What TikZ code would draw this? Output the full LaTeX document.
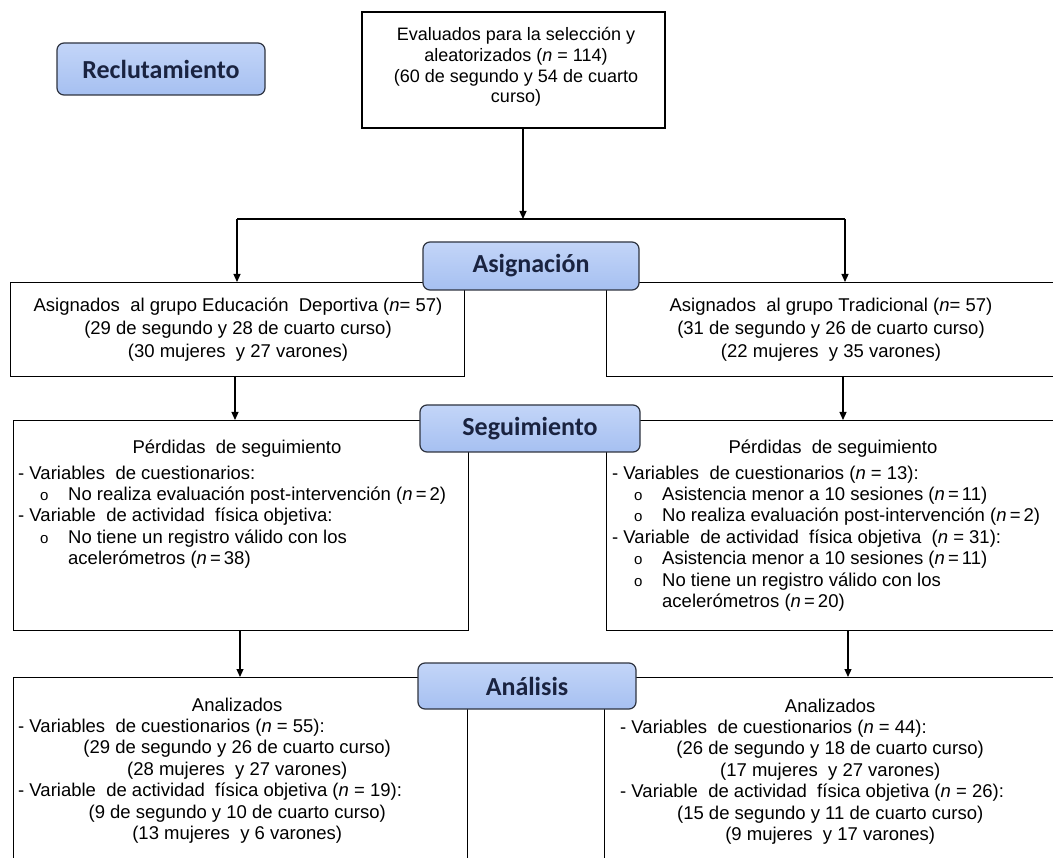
\documentclass[tikz,border=0pt]{standalone}
\usepackage{fontspec}
\setmainfont{Liberation Sans}
\newfontfamily\labelfont{Carlito}
\usetikzlibrary{arrows.meta}
\definecolor{labtop}{HTML}{C3D5F8}
\definecolor{labbot}{HTML}{A6C0F1}
\definecolor{labtext}{HTML}{1A2340}
\definecolor{labedge}{HTML}{2F3440}
\newcommand\bul{\makebox[50pt][l]{\hspace*{22pt}{\fontsize{15}{15}\selectfont o}}}
\newcommand\ind{\hspace*{50pt}}
\newcommand\nn{\textit{n}}
\begin{document}
\begin{tikzpicture}[x=1pt,y=-1pt,
  box/.style={draw=black, line width=1.4pt, fill=white, inner sep=0pt},
  lab/.style={draw=labedge, line width=1.2pt, rounded corners=7pt, top color=labtop, bottom color=labbot,
    font=\labelfont\bfseries\fontsize{26}{28}\selectfont, text=labtext, inner sep=0pt},
  txt/.style={font=\fontsize{18.5}{20.7}\selectfont, align=center, inner sep=0pt},
  lst/.style={font=\fontsize{18.5}{21.4}\selectfont, align=left, inner sep=0pt, anchor=north west},
  arr/.style={line width=1.2pt, -{Triangle[length=8pt,width=7pt]}},
  ln/.style={line width=1.2pt}]
\useasboundingbox (0,0) rectangle (1053,858);
\clip (0,0) rectangle (1053,858);
\fill[white] (0,0) rectangle (1053,858);

% label boxes
\node[lab, minimum width=208pt, minimum height=52pt] (recl) at (161,69) {Reclutamiento};

% top box
\node[box, minimum width=303pt, minimum height=116pt] (top) at (513.5,70) {};
\node[txt, font=\fontsize{18}{20.7}\selectfont] (toptxt) at (516,67) {Evaluados para la selección y\\ aleatorizados (\nn\ = 114)\\ (60 de segundo y 54 de cuarto\\ curso)};

% assignment boxes
\node[box, minimum width=454pt, minimum height=94pt, anchor=north west] (asgL) at (10,282) {};
\node[box, minimum width=460pt, minimum height=94pt, anchor=north west] (asgR) at (606,282) {};
\node[txt, font=\fontsize{18.5}{23}\selectfont] (asgLtxt) at (238,330) {Asignados \ al grupo Educación \ Deportiva (\nn= 57)\\ (29 de segundo y 28 de cuarto curso)\\ (30 mujeres \ y 27 varones)};
\node[txt, font=\fontsize{18.5}{23}\selectfont] (asgRtxt) at (831,330) {Asignados \ al grupo Tradicional (\nn= 57)\\ (31 de segundo y 26 de cuarto curso)\\ (22 mujeres \ y 35 varones)};
\node[lab, minimum width=216pt, minimum height=48pt] (asig) at (531,266) {Asignación};

% follow-up boxes
\node[box, minimum width=455pt, minimum height=210pt, anchor=north west] (segL) at (13,420) {};
\node[box, minimum width=460pt, minimum height=210pt, anchor=north west] (segR) at (606,420) {};
\node[txt] (segLt) at (237,449) {Pérdidas \ de seguimiento};
\node[lst] (segLl) at (18,465.5) {- Variables \ de cuestionarios:\\
\bul No realiza evaluación post-intervención (\nn\,=\,2)\\
- Variable \ de actividad \ física objetiva:\\
\bul No tiene un registro válido con los\\
\ind acelerómetros (\nn\,=\,38)};
\node[txt] (segRt) at (833,449) {Pérdidas \ de seguimiento};
\node[lst] (segRl) at (612,465.5) {- Variables \ de cuestionarios (\nn\ = 13):\\
\bul Asistencia menor a 10 sesiones (\nn\,=\,11)\\
\bul No realiza evaluación post-intervención (\nn\,=\,2)\\
- Variable \ de actividad \ física objetiva \ (\nn\ = 31):\\
\bul Asistencia menor a 10 sesiones (\nn\,=\,11)\\
\bul No tiene un registro válido con los\\
\ind acelerómetros (\nn\,=\,20)};
\node[lab, minimum width=220pt, minimum height=47pt] (segu) at (530,428.5) {Seguimiento};

% analysis boxes
\node[box, minimum width=454pt, minimum height=200pt, anchor=north west] (anaL) at (13,677) {};
\node[box, minimum width=460pt, minimum height=200pt, anchor=north west] (anaR) at (604,677) {};
\node[lst] (anaLl) at (18,697.5) {\makebox[438pt][c]{Analizados}\\
- Variables \ de cuestionarios (\nn\ = 55):\\
\makebox[438pt][c]{(29 de segundo y 26 de cuarto curso)}\\
\makebox[438pt][c]{(28 mujeres \ y 27 varones)}\\
- Variable \ de actividad \ física objetiva (\nn\ = 19):\\
\makebox[438pt][c]{(9 de segundo y 10 de cuarto curso)}\\
\makebox[438pt][c]{(13 mujeres \ y 6 varones)}};
\node[lst] (anaRl) at (620,698.5) {\makebox[420pt][c]{Analizados}\\
- Variables \ de cuestionarios (\nn\ = 44):\\
\makebox[420pt][c]{(26 de segundo y 18 de cuarto curso)}\\
\makebox[420pt][c]{(17 mujeres \ y 27 varones)}\\
- Variable \ de actividad \ física objetiva (\nn\ = 26):\\
\makebox[420pt][c]{(15 de segundo y 11 de cuarto curso)}\\
\makebox[420pt][c]{(9 mujeres \ y 17 varones)}};
\node[lab, minimum width=218pt, minimum height=46pt] (anal) at (527,686) {Análisis};

% connectors
\coordinate (split) at (523,219);
\coordinate (spL) at (237,219);
\coordinate (spR) at (845,219);
\draw[arr] (top.south -| split) -- (split);
\draw[ln] (spL) -- (spR);
\draw[arr] (spL) -- (spL |- asgL.north);
\draw[arr] (spR) -- (spR |- asgR.north);
\draw[arr] (235,376) -- (235,420);
\draw[arr] (843,376) -- (843,420);
\draw[arr] (240,630) -- (240,677);
\draw[arr] (848,630) -- (848,677);
\end{tikzpicture}
\end{document}
